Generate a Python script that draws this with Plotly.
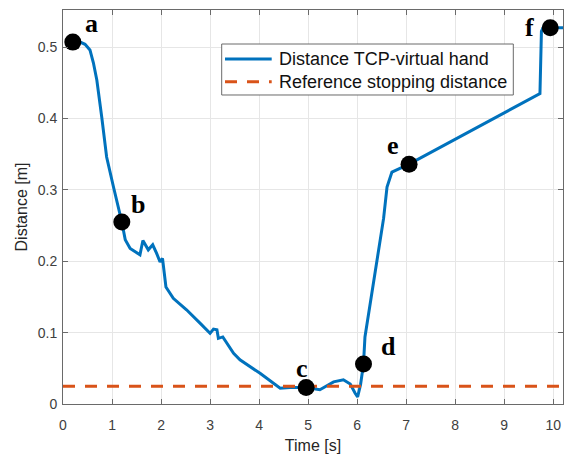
import plotly.graph_objects as go

# Distance TCP-virtual hand (time [s], distance [m])
time_s = [0.2, 0.35, 0.45, 0.55, 0.62, 0.69, 0.79, 0.89, 1.03, 1.2, 1.27, 1.37, 1.57, 1.63,
          1.74, 1.83, 1.91, 1.98, 2.03, 2.06, 2.1, 2.25, 2.52, 2.8, 3.0, 3.07, 3.14, 3.17,
          3.26, 3.48, 3.61, 4.02, 4.43, 4.63, 4.96, 5.24, 5.52, 5.72, 5.86, 5.96, 6.01,
          6.07, 6.13, 6.16, 6.27, 6.37, 6.47, 6.54, 6.61, 6.67, 6.71, 7.06, 9.73, 9.76,
          9.80, 9.94, 10.2]
distance_m = [0.507, 0.507, 0.504, 0.496, 0.478, 0.454, 0.402, 0.346, 0.304, 0.255, 0.230,
              0.218, 0.209, 0.229, 0.216, 0.223, 0.211, 0.199, 0.204, 0.183, 0.164, 0.148,
              0.132, 0.113, 0.099, 0.105, 0.104, 0.092, 0.094, 0.071, 0.062, 0.043, 0.022,
              0.023, 0.023, 0.020, 0.031, 0.034, 0.028, 0.015, 0.010, 0.027, 0.056, 0.094,
              0.141, 0.188, 0.230, 0.260, 0.304, 0.318, 0.325, 0.336, 0.435, 0.522, 0.528,
              0.527, 0.527]

# Reference stopping distance
ref_x = [0, 10.2]
ref_y = [0.025, 0.025]

# Highlighted points
point_labels = ["a", "b", "c", "d", "e", "f"]
point_t = [0.2, 1.2, 4.96, 6.13, 7.06, 9.94]
point_d = [0.507, 0.255, 0.023, 0.056, 0.336, 0.527]
label_t = [0.585, 1.53, 4.87, 6.63, 6.74, 9.52]
label_d = [0.533, 0.280, 0.050, 0.080, 0.362, 0.527]

legend_names = ["Distance TCP-virtual hand", "Reference stopping distance"]

x_ticks = list(range(0, 11))
y_ticks = [0, 0.1, 0.2, 0.3, 0.4, 0.5]
y_tick_text = ["0", "0.1", "0.2", "0.3", "0.4", "0.5"]

BLUE = "#0072BD"
ORANGE = "#D95319"
DASH = "12px,10px"

fig = go.Figure()
fig.add_trace(go.Scatter(x=time_s, y=distance_m, mode="lines",
                         line=dict(color=BLUE, width=3),
                         name=legend_names[0], showlegend=False))
fig.add_trace(go.Scatter(x=ref_x, y=ref_y, mode="lines",
                         line=dict(color=ORANGE, width=3, dash=DASH),
                         name=legend_names[1], showlegend=False))
fig.add_trace(go.Scatter(x=point_t, y=point_d, mode="markers",
                         marker=dict(color="black", size=17),
                         showlegend=False))

for lab, lx, ly in zip(point_labels, label_t, label_d):
    fig.add_annotation(x=lx, y=ly, text="<b>%s</b>" % lab, showarrow=False,
                       font=dict(family="Liberation Serif", size=26, color="black"))

# Legend box drawn in paper coordinates (MATLAB-style)
fig.add_shape(type="rect", xref="paper", yref="paper",
              x0=0.3174, x1=0.9006, y0=0.7843, y1=0.9137,
              line=dict(color="#6a6a6a", width=1), fillcolor="white", layer="above")
legend_rows = [0.8756, 0.818]
legend_styles = [dict(color=BLUE, width=3), dict(color=ORANGE, width=3, dash=DASH)]
for name, ry, st in zip(legend_names, legend_rows, legend_styles):
    fig.add_shape(type="line", xref="paper", yref="paper",
                  x0=0.324, x1=0.4174, y0=ry, y1=ry, line=st, layer="above")
    fig.add_annotation(xref="paper", yref="paper", x=0.4274, y=ry, text=name,
                       showarrow=False, xanchor="left", yanchor="middle",
                       font=dict(family="Liberation Sans", size=18, color="#111111"))

axis_common = dict(showgrid=True, gridcolor="#e6e6e6", gridwidth=1,
                   showline=True, linecolor="#6a6a6a", linewidth=1, mirror="ticks",
                   ticks="inside", ticklen=5, tickcolor="#6a6a6a",
                   tickfont=dict(family="Liberation Sans", size=14, color="#404040"),
                   zeroline=False)

fig.update_xaxes(range=[0, 10.2], tickvals=x_ticks, ticklabelstandoff=8,
                 title=dict(text="Time [s]", font=dict(family="Liberation Sans", size=16, color="#262626"),
                            standoff=8),
                 **axis_common)
fig.update_yaxes(range=[0, 0.552], tickvals=y_ticks, ticktext=y_tick_text, ticklabelstandoff=2,
                 title=dict(text="Distance [m]", font=dict(family="Liberation Sans", size=16, color="#262626"),
                            standoff=6),
                 **axis_common)

# page body adds an 8px offset; margins compensate so the plot area sits at x 63-563, y 10-404
fig.update_layout(
    width=580, height=454,
    margin=dict(l=55, r=25, t=2, b=58),
    plot_bgcolor="white", paper_bgcolor="white",
    showlegend=False,
)

fig.write_html("out.html")
